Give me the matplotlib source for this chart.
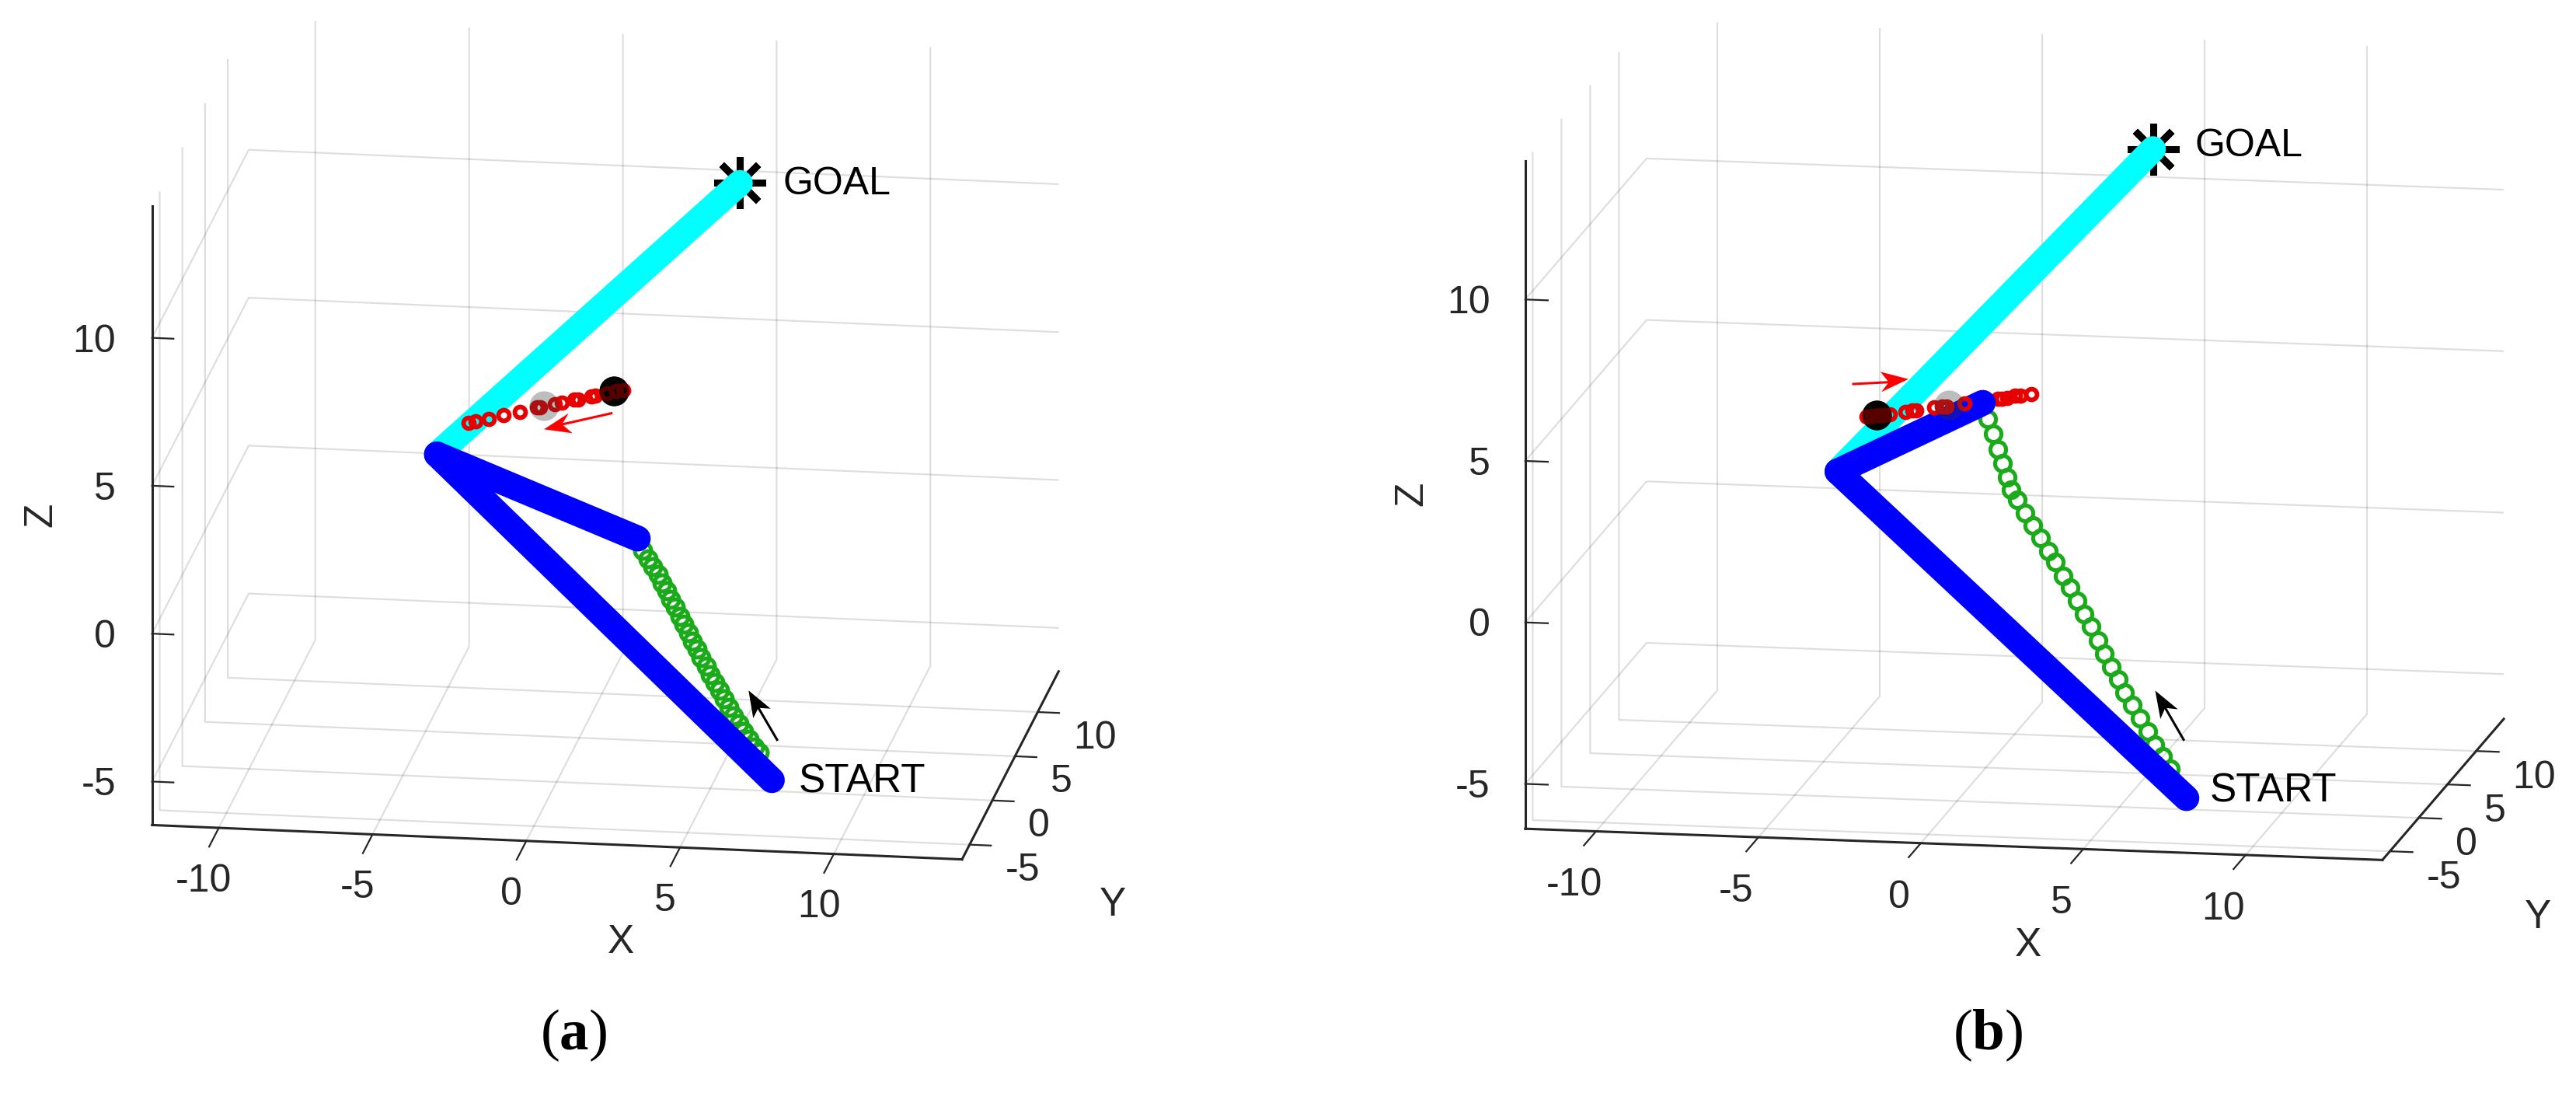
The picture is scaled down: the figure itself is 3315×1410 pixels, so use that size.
import numpy as np
import matplotlib
matplotlib.use('Agg')
import matplotlib.pyplot as plt
from matplotlib.patches import Polygon
from matplotlib.lines import Line2D
from matplotlib.transforms import Affine2D

plt.rcParams['font.family'] = ['Liberation Sans', 'DejaVu Sans']
plt.rcParams['mathtext.fontset'] = 'custom'
plt.rcParams['mathtext.bf'] = 'Liberation Serif:bold'
plt.rcParams['mathtext.rm'] = 'Liberation Serif'

W, H = 3315, 1410
x_ticks = [-10, -5, 0, 5, 10]
y_ticks = [-5, 0, 5, 10]
z_ticks = [-5, 0, 5, 10]

a_lims = [(-12.17, 14.17), (-6.67, 14.6), (-6.47, 14.45)]
b_lims = [(-12.18, 14.21), (-6.3, 14.8), (-6.39, 14.3)]

# ---- panel (a) ----
a_start = [7.0, 0, -6.1]
a_elbow = [-3.89, 0, 4.43]
a_end = [2.64, 0, 1.875]
a_goal = [5.96, 0, 14.04]
a_black = [1.87, 0, 6.84]
a_gray = [-0.41, 0, 6.24]
a_red_x = [-2.854, -2.634, -2.215, -1.735, -1.205, -0.639, -0.530, -0.051,
           0.159, 0.581, 0.707, 1.129, 1.255, 1.634, 1.927, 2.179]
a_red_z = [5.544, 5.604, 5.711, 5.857, 5.996, 6.154, 6.177, 6.295,
           6.35, 6.475, 6.5, 6.614, 6.657, 6.743, 6.82, 6.874]
a_green_x = [2.811, 2.98, 3.131, 3.301, 3.442, 3.586, 3.72, 3.864, 4.008, 4.141,
             4.285, 4.427, 4.578, 4.697, 4.874, 5.0, 5.144, 5.295, 5.447, 5.606,
             5.758, 5.927, 6.093, 6.263, 6.432, 6.598]
a_green_z = [1.494, 1.212, 0.956, 0.683, 0.408, 0.151, -0.139, -0.396, -0.687, -0.962,
             -1.237, -1.509, -1.783, -2.059, -2.33, -2.613, -2.869, -3.144, -3.408, -3.7,
             -3.983, -4.238, -4.493, -4.748, -5.003, -5.169]

# ---- panel (b) ----
b_start = [7.06, 0, -6.04]
b_elbow = [-3.68, 0, 3.68]
b_end = [0.79, 0, 5.97]
b_goal = [6.03, 0, 14.02]
b_black = [-2.48, 0, 5.468]
b_gray = [-0.25, 0, 5.87]
b_red_x = [-2.788, -2.627, -2.428, -2.262, -2.06, -1.599, -1.387, -1.248,
           -0.704, -0.478, -0.332, 0.228]
b_red_z = [5.416, 5.445, 5.47, 5.49, 5.522, 5.595, 5.651, 5.671,
           5.772, 5.819, 5.824, 5.94]
b_red2_x = [1.267, 1.387, 1.54, 1.793, 1.957, 2.281]
b_red2_z = [6.122, 6.126, 6.16, 6.223, 6.244, 6.303]
b_green_x = [0.933, 1.103, 1.245, 1.389, 1.531, 1.663, 1.863, 2.101, 2.339, 2.567,
             2.805, 3.024, 3.262, 3.481, 3.697, 3.909, 4.115, 4.337, 4.543, 4.752,
             4.971, 5.161, 5.399, 5.637, 5.875, 6.094, 6.332, 6.57]
b_green_z = [5.469, 5.026, 4.559, 4.112, 3.687, 3.311, 3.016, 2.604, 2.242, 1.849,
             1.456, 1.113, 0.691, 0.348, -0.046, -0.459, -0.834, -1.257, -1.67, -2.064,
             -2.439, -2.853, -3.215, -3.608, -4.03, -4.423, -4.766, -5.159]

CYAN, BLUE, RED, GREEN = '#00ffff', '#0000ff', '#e60000', '#1aaa1a'
AXC = '#262626'

fig = plt.figure(figsize=(W/100, H/100), dpi=100, facecolor='white')
PX = Affine2D().scale(1, -1).translate(0, H)   # pixels from top-left of the figure
HIDDEN = Affine2D().scale(0, 0).translate(W/2, H/2)   # the unused second tick labels


def offset_labels(ax, axis, dx, dy):
    orig = axis.get_major_ticks
    tr = ax.transData + Affine2D().translate(dx, dy)

    def wrapped(numticks=None):
        ticks = orig(numticks)
        for t in ticks:
            t.label1.set_transform(tr)
            t.label2.set_transform(HIDDEN)
            t.label2.set_visible(False)
        return ticks
    axis.get_major_ticks = wrapped


def panel(lims, elev, azim, s, fz, cu, cv, off, S=1200):
    rng = np.array([l[1]-l[0] for l in lims])
    aspect = rng*np.array([1, 1, fz])
    zoom = s*0.185*10*np.linalg.norm(aspect)/(1.8294640721620434*25/24*S)
    left = cu-0.95/1.85*S
    bottom = H-(cv+0.95/1.85*S)
    ax = fig.add_axes([left/W, bottom/H, S/W, S/H], projection='3d', proj_type='ortho')
    ax.set_xlim(*lims[0]); ax.set_ylim(*lims[1]); ax.set_zlim(*lims[2])
    ax.set_box_aspect(aspect, zoom=zoom)
    ax.view_init(elev=elev, azim=azim)
    ax.patch.set_alpha(0)
    ax.computed_zorder = False
    ax.set_xticks(x_ticks, [str(v) for v in x_ticks])
    ax.set_yticks(y_ticks, [str(v) for v in y_ticks], ha='left')
    ax.set_zticks(z_ticks, [str(v) for v in z_ticks], ha='right')
    ax.zaxis.set_ticks_position('lower')
    ax.zaxis._get_tickdir = lambda pos: 0
    for axis in (ax.xaxis, ax.yaxis, ax.zaxis):
        axis.set_pane_color((1, 1, 1, 0))
        axis.pane.set_edgecolor((1, 1, 1, 0))
        axis.line.set_color(AXC)
        axis.line.set_linewidth(2.2)
        axis._axinfo['grid'].update(color=(0, 0, 0, 0.13), linewidth=1.6)
        axis._axinfo['tick']['linewidth'] = {True: 1.6, False: 1}
        axis._axinfo['tick']['inward_factor'] = 0
    ax.xaxis._axinfo['tick']['outward_factor'] = -1.25
    ax.yaxis._axinfo['tick']['outward_factor'] = -0.33
    ax.zaxis._axinfo['tick']['outward_factor'] = -0.33
    ax.tick_params(colors=AXC, labelsize=36)
    ax.tick_params(axis='x', pad=7.5)
    for axis, (dx, dy) in zip((ax.xaxis, ax.yaxis, ax.zaxis), off):
        offset_labels(ax, axis, dx, dy)
    return ax


def P(*pts):
    return [list(c) for c in zip(*pts)]


def robot(ax, start, elbow, end, goal, black, gray, green_x, green_z, red_groups, ring_ms):
    lw = 24
    ax.plot(*P(goal), marker=(8, 2, 0), ms=48, mew=6.5, color='k', ls='none', zorder=2)
    ax.plot(*P(goal, elbow), color=CYAN, lw=lw, solid_capstyle='round', zorder=3)
    ax.plot(green_x, np.zeros(len(green_x)), green_z, ls='none', marker='o', ms=ring_ms,
            mfc='none', mec=GREEN, mew=3.7, zorder=4)
    ax.plot(*P(elbow, start), color=BLUE, lw=lw, solid_capstyle='round', zorder=5)
    ax.plot(*P(elbow, end), color=BLUE, lw=lw, solid_capstyle='round', zorder=5)
    ax.plot(*P(black), marker='o', ms=27.5, color='#080808', mew=0, ls='none', zorder=5.5)
    for rx, rz, zo in red_groups:
        ax.plot(rx, np.zeros(len(rx)), rz, ls='none', marker='o', ms=10,
                mfc='none', mec=RED, mew=4.2, zorder=zo)
    ax.plot(*P(black), marker='o', ms=27.5, color='k', alpha=0.62, mew=0, ls='none', zorder=7)
    ax.plot(*P(gray), marker='o', ms=27.5, color='#333333', alpha=0.32, mew=0, ls='none', zorder=7)


def arrow(tail, tip, wing1, notch, wing2, color, lw):
    fig.add_artist(Line2D([tail[0], notch[0]], [tail[1], notch[1]], color=color, lw=lw,
                          transform=PX))
    fig.add_artist(Polygon([tip, wing1, notch, wing2], closed=True, fc=color, ec='none',
                           transform=PX))


# ----- panel (a)
ax1 = panel(a_lims, 16.7, -81.6, 40.0, 0.9933, 779, 564.5, [(-15, -10), (19, 11), (-17, 23)])
robot(ax1, a_start, a_elbow, a_end, a_goal, a_black, a_gray, a_green_x, a_green_z,
      [(a_red_x, a_red_z, 6)], 15)
ax1.text(7.36, 0, 14.07, 'GOAL', fontsize=36, ha='left', va='center', color='k', zorder=9)
ax1.text(7.88, 0, -6.13, 'START', fontsize=37, ha='left', va='center', color='k', zorder=9)
arrow((786.7, 531.7), (700, 552.3), (731.7, 531.7), (723.3, 546), (736.7, 557.3), '#ff0000', 2.2)
arrow((1000, 951.7), (963.3, 888.3), (991.7, 911.7), (976, 910.7), (969.3, 924), 'k', 2.2)

# ----- panel (b)
ax2 = panel(b_lims, 11.87, -79.96, 42.45, 1.0, 2592.4, 565.8, [(-23, -11), (19, 11), (-13, 22)])
robot(ax2, b_start, b_elbow, b_end, b_goal, b_black, b_gray, b_green_x, b_green_z,
      [(b_red_x, b_red_z, 6), (b_red2_x, b_red2_z, 4.5)], 14.5)
ax2.text(7.31, 0, 14.15, 'GOAL', fontsize=36, ha='left', va='center', color='k', zorder=9)
ax2.text(7.79, 0, -5.8, 'START', fontsize=37, ha='left', va='center', color='k', zorder=9)
arrow((2385, 494), (2456, 487.7), (2419.8, 478.3), (2430.6, 491.7), (2421, 504.3), '#ff0000', 2.2)
arrow((2810, 951.5), (2773.5, 888.5), (2802.7, 912.5), (2786.4, 910.7), (2780.2, 925), 'k', 2.2)

# ----- axis letters and captions (pixel anchors from the top-left corner)
def label(u, v, s, **kw):
    fig.text(u/W, 1-v/H, s, ha='center', va='center', **kw)

for u, v, s, rot in [(799, 1213, 'X', 0), (1432, 1164, 'Y', 0), (53, 662, 'Z', 90),
                     (2610, 1216, 'X', 0), (3266, 1180, 'Y', 0), (1817, 635, 'Z', 90)]:
    label(u, v, s, fontsize=37, color=AXC, rotation=rot)
for u, s in [(738, 'a'), (2558, 'b')]:
    label(u, 1332, '($\\mathbf{%s}$)' % s, fontsize=54, family='Liberation Serif', color='k')

fig.savefig('out.png', dpi=100)
